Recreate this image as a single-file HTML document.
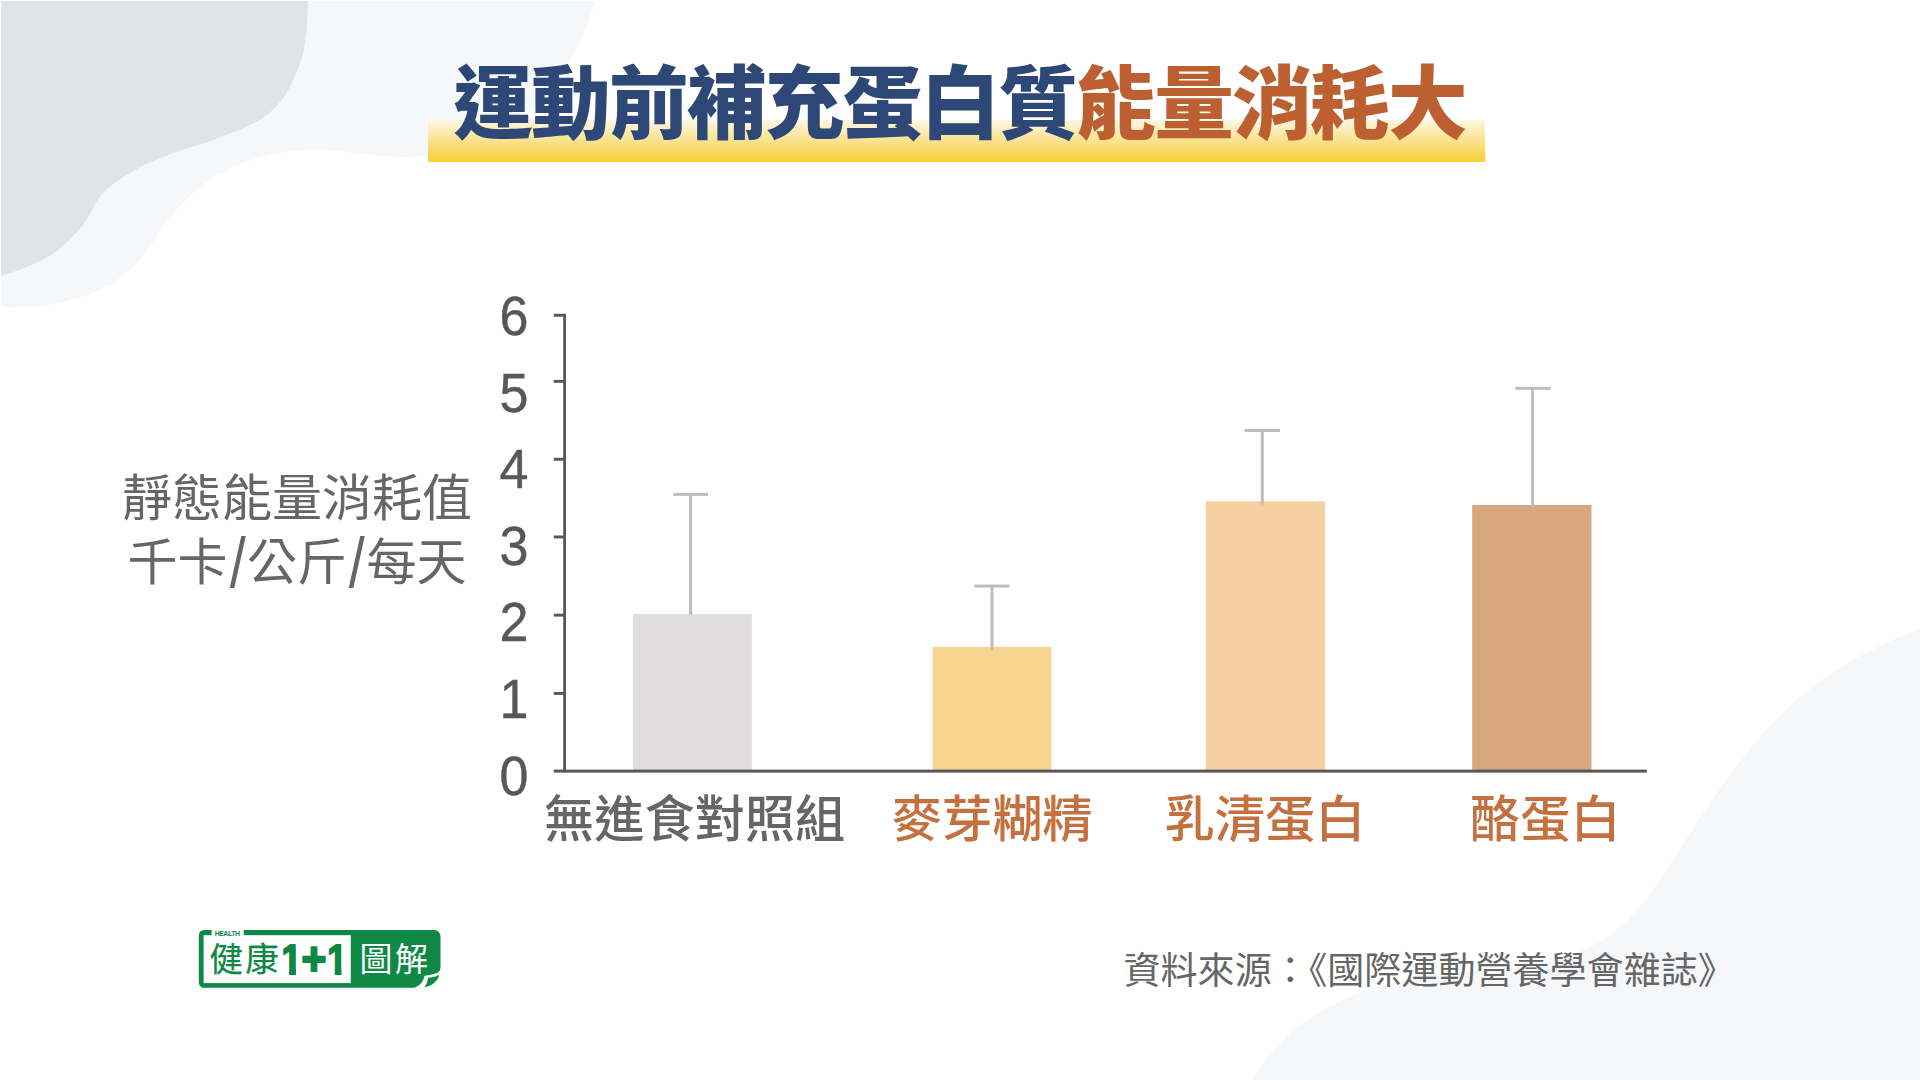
<!DOCTYPE html>
<html lang="zh-Hant">
<head>
<meta charset="utf-8">
<title>運動前補充蛋白質能量消耗大</title>
<style>
html,body{margin:0;padding:0;}
body{width:1920px;height:1080px;position:relative;overflow:hidden;background:#fff;
  font-family:"Liberation Sans","Noto Sans CJK TC",sans-serif;}
#shapes{position:absolute;left:0;top:0;width:1920px;height:1080px;}
.t{position:absolute;white-space:nowrap;line-height:1;}
#title{left:453.2px;top:64.6px;font-size:79.6px;font-weight:900;color:#2d4876;letter-spacing:-1.7px;}
#title .o{color:#bd6031;}
.yn{transform:scaleY(1.055);font-size:52px;color:#595757;-webkit-text-stroke:0.4px #595757;width:60px;text-align:center;left:484px;font-weight:400;}
.xl{font-size:50.2px;font-weight:500;color:#666;transform:translateX(-50%);}
.xl.o{color:#c4703f;}
#ylab{left:97px;top:468px;width:400px;text-align:center;font-size:50px;line-height:63.5px;color:#666;white-space:nowrap;position:absolute;}
#src{left:1123.5px;top:953px;font-size:37.05px;color:#666;font-weight:400;}

.sl{display:inline-block;width:19.5px;text-align:center;transform:translateY(1px) scale(1.15,1.4);}
.lb{margin-left:0px;}
#lg-health{left:214.7px;top:931.2px;font-size:6.9px;font-weight:700;color:#0e8945;letter-spacing:-0.45px;}
#lg-a{left:209.5px;top:942.5px;font-size:33.5px;font-weight:400;color:#0e8945;letter-spacing:2.2px;-webkit-text-stroke:0.25px #0e8945;}
#lg-c{left:359.6px;top:943.2px;font-size:33px;font-weight:400;color:#fff;letter-spacing:2.4px;}
</style>
</head>
<body>
<svg id="shapes" width="1920" height="1080" viewBox="0 0 1920 1080">
  <defs>
    <linearGradient id="hl" x1="0" y1="0" x2="0" y2="1">
      <stop offset="0" stop-color="#fef7e2"/>
      <stop offset="0.5" stop-color="#fbe28c"/>
      <stop offset="1" stop-color="#facf36"/>
    </linearGradient>
  </defs>
  <!-- background blobs -->
  <path id="blobL" fill="#f6f7f9" d="M595.0,1.0 C593.8,4.7 591.2,14.8 588.0,23.0 C584.8,31.2 579.3,43.4 576.0,50.0 C572.7,56.6 572.5,56.8 568.0,62.6 C563.5,68.4 554.8,77.9 549.0,85.0 C543.2,92.1 542.0,97.2 533.0,105.0 C524.0,112.8 506.0,125.1 495.0,132.0 C484.0,138.9 477.3,142.8 467.0,146.5 C456.7,150.2 444.2,152.8 433.0,154.5 C421.8,156.2 413.4,157.3 400.0,157.0 C386.6,156.7 364.2,154.0 352.5,152.8 C340.8,151.6 338.9,150.3 330.0,150.0 C321.1,149.7 309.0,149.9 299.1,150.7 C289.2,151.4 280.3,152.4 270.9,154.5 C261.5,156.6 251.0,159.9 242.8,163.0 C234.6,166.1 228.7,168.8 221.7,172.8 C214.7,176.8 206.9,182.0 200.6,186.9 C194.3,191.8 188.5,197.6 183.8,202.3 C179.1,207.0 176.2,210.4 172.5,215.0 C168.8,219.6 165.1,224.8 161.3,230.0 C157.6,235.2 155.0,239.8 150.0,246.3 C145.0,252.8 138.8,261.9 131.3,268.8 C123.8,275.7 114.4,282.5 105.0,287.5 C95.6,292.5 86.2,295.7 75.0,298.8 C63.8,301.9 50.0,304.9 37.5,306.3 C25.0,307.7 6.2,307.1 0.0,307.3 L1.2,307.3 L1.2,1 Z"/>
  <path id="blobD" fill="#e0e3e8" d="M308.0,1.0 C307.8,5.5 307.5,19.1 306.6,28.0 C305.7,36.9 305.1,45.7 302.8,54.4 C300.5,63.1 296.4,72.9 293.0,80.3 C289.6,87.7 286.8,93.2 282.6,98.8 C278.5,104.4 273.5,109.6 268.1,114.0 C262.7,118.4 256.6,121.7 250.0,125.0 C243.4,128.3 235.9,131.3 228.8,134.1 C221.8,136.9 214.7,139.5 207.7,141.9 C200.7,144.3 193.6,146.2 186.6,148.5 C179.6,150.8 172.5,153.1 165.5,155.9 C158.5,158.7 151.4,161.6 144.4,165.1 C137.4,168.6 129.4,173.1 123.3,177.0 C117.2,180.9 112.0,184.6 107.8,188.3 C103.6,192.1 101.0,195.1 98.0,199.5 C95.0,203.9 92.4,210.2 89.5,215.0 C86.6,219.8 84.6,223.3 80.6,228.0 C76.6,232.7 71.2,238.5 65.6,243.4 C60.0,248.3 54.1,253.3 46.9,257.5 C39.7,261.7 30.3,265.7 22.5,268.8 C14.7,271.9 3.8,274.8 0.0,276.0 L1.2,276 L1.2,1 Z"/>
  <path id="blobR" fill="#f6f7f9" d="M1920.0,628.1 C1914.7,630.5 1898.1,637.5 1888.1,642.2 C1878.1,646.9 1869.4,651.1 1860.0,656.3 C1850.6,661.4 1841.3,666.9 1831.9,673.1 C1822.5,679.4 1813.2,686.0 1803.8,693.8 C1794.4,701.6 1785.0,710.3 1775.6,720.0 C1766.2,729.7 1755.3,742.5 1747.5,751.9 C1739.7,761.3 1734.7,768.3 1728.8,776.3 C1722.9,784.3 1717.0,792.6 1711.9,800.0 C1706.8,807.4 1705.1,809.9 1698.1,820.6 C1691.1,831.3 1679.4,850.5 1670.0,864.4 C1660.6,878.2 1651.3,892.5 1641.9,903.7 C1632.5,915.0 1623.1,924.4 1613.7,931.9 C1604.3,939.4 1597.3,943.6 1585.6,948.7 C1573.9,953.9 1557.5,959.4 1543.4,962.8 C1529.4,966.2 1517.7,967.1 1501.3,969.0 C1484.9,970.9 1463.8,971.5 1445.0,974.0 C1426.2,976.5 1405.2,979.9 1388.8,983.9 C1372.4,987.9 1360.7,991.7 1346.6,998.0 C1332.5,1004.3 1316.1,1013.7 1304.4,1021.9 C1292.7,1030.1 1285.1,1037.5 1276.2,1047.2 C1267.3,1056.9 1255.1,1074.5 1250.9,1080.0 L1920,1080 Z"/>
  <!-- title highlight -->
  <rect x="428" y="120" width="1057" height="42" fill="url(#hl)"/>

  <!-- bars -->
  <rect x="632.8" y="614.1" width="119.1" height="156" fill="#e0dede"/>
  <rect x="932.6" y="646.9" width="118.8" height="124" fill="#f6d58f"/>
  <rect x="1205.8" y="501.4" width="119.2" height="269" fill="#f5cf9f"/>
  <rect x="1472.2" y="505" width="119.3" height="265" fill="#d9a77f"/>
  <!-- error bars -->
  <g fill="#bdbdbd">
    <rect x="689.1" y="494" width="3" height="120.5"/><rect x="673.3" y="492.9" width="34.7" height="3"/>
    <rect x="990.5" y="586" width="3" height="64.5"/><rect x="974.3" y="584.6" width="35.1" height="3"/>
    <rect x="1260.8" y="430" width="3" height="74.5"/><rect x="1244.6" y="429" width="35.4" height="3"/>
    <rect x="1531.1" y="388" width="3" height="120"/><rect x="1515.2" y="386.8" width="35.4" height="3"/>
  </g>
  <!-- axes -->
  <g fill="#595757">
    <rect x="563.2" y="313.8" width="2.8" height="458.6"/>
    <rect x="553.8" y="769.6" width="1093" height="3"/>
    <rect x="553.8" y="313.8" width="12" height="2.9"/>
    <rect x="553.8" y="379.9" width="12" height="2.9"/>
    <rect x="553.8" y="457.8" width="12" height="2.9"/>
    <rect x="553.8" y="535.5" width="12" height="2.9"/>
    <rect x="553.8" y="613.7" width="12" height="2.9"/>
    <rect x="553.8" y="692" width="12" height="2.9"/>
  </g>
  <!-- logo -->
  <g id="logo">
    <path fill="#0e8945" d="M204,930.1 H434.3 A6.2,6.2 0 0 1 440.5,936.3 V966.7 C440.5,970.8 438.6,972.6 435.4,973.4 C432,974.6 428,975.4 424.5,975.8 C423.6,981.3 419.9,985.8 414.5,987.7 H204 A5.2,5.2 0 0 1 198.8,982.5 V935.3 A5.2,5.2 0 0 1 204,930.1 Z"/>
    <rect x="203.6" y="935.2" width="147.2" height="47.9" fill="#fff"/>
    <rect x="211.6" y="929.5" width="32.1" height="6.5" fill="#fff"/>
    <path fill="#0e8945" d="M428.1,977.6 C432.5,977.6 436,976.8 439.2,974.8 C438.4,980.5 432.5,985.9 424.4,987.3 C426.5,984.5 427.6,981.5 428.1,977.6 Z"/>
    <clipPath id="c1"><path d="M-4,-40 H16.65 V4 H8.8 V-6.1 H-4 Z"/></clipPath>
    <g font-family="'Liberation Sans',sans-serif" font-weight="700" fill="#0e8945" stroke="#0e8945" stroke-width="2" stroke-linejoin="round">
      <text transform="translate(281.6,973.9) scale(0.86,1)" font-size="42.15" clip-path="url(#c1)">1</text>
      <text transform="translate(301.5,975.2) scale(1,1.09)" font-size="42.5">+</text>
      <text transform="translate(327.2,973.9) scale(0.86,1)" font-size="42.15" clip-path="url(#c1)">1</text>
    </g>
  </g>
</svg>
<div id="title" class="t">運動前補充蛋白質<span class="o">能量消耗大</span></div>

<div class="t yn" style="top:289.9px">6</div>
<div class="t yn" style="top:366.5px">5</div>
<div class="t yn" style="top:443.1px">4</div>
<div class="t yn" style="top:519.7px">3</div>
<div class="t yn" style="top:596.3px">2</div>
<div class="t yn" style="top:672.9px">1</div>
<div class="t yn" style="top:749.5px">0</div>
<div class="t xl" style="left:694.7px;top:794.5px">無進食對照組</div>
<div class="t xl o" style="left:992.2px;top:794.5px">麥芽糊精</div>
<div class="t xl o" style="left:1265px;top:794.5px">乳清蛋白</div>
<div class="t xl o" style="left:1545.3px;top:794.5px">酪蛋白</div>
<div id="ylab">靜態能量消耗值<br>千卡<span class="sl">/</span>公斤<span class="sl">/</span>每天</div>
<div id="src" class="t">資料來源：<span class="lb">《</span>國際運動營養學會雜誌》</div>
<div id="lg-health" class="t">HEALTH</div>
<div id="lg-a" class="t">健康</div>
<div id="lg-c" class="t">圖解</div>
</body>
</html>
